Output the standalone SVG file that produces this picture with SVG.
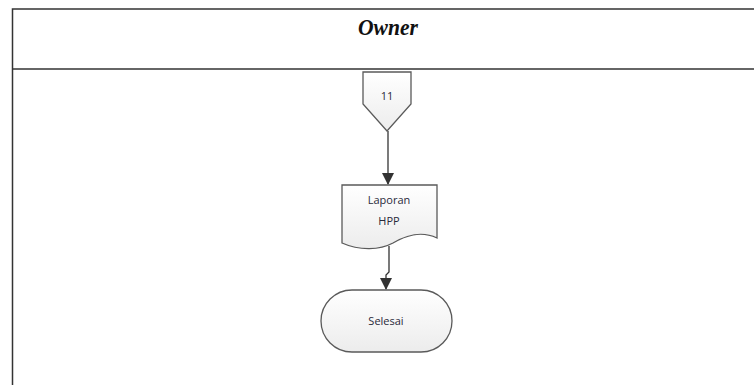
<svg xmlns="http://www.w3.org/2000/svg" width="754" height="387" viewBox="0 0 754 387">
<style>
.frame{fill:none;stroke:#333;stroke-width:1.5}
.shape{fill:url(#g);stroke:#5a5a5a;stroke-width:1.3}
.lbl{font-family:"Open Sans","Liberation Sans",sans-serif;font-size:11px;fill:#2a2a3a;text-anchor:middle}
.conn{fill:none;stroke:#333;stroke-width:1.3}
</style>
<defs>
<linearGradient id="g" x1="0" y1="0" x2="0" y2="1">
<stop offset="0" stop-color="#ffffff"/>
<stop offset="1" stop-color="#ececec"/>
</linearGradient>
<marker id="ah" markerWidth="12" markerHeight="12" refX="11" refY="6" orient="auto" markerUnits="userSpaceOnUse">
<path d="M0,0 L12,6 L0,12 Z" fill="#333"/>
</marker>
</defs>
<g id="frame">
<path class="frame" d="M754,9 H12.5 V385"/>
<line class="frame" x1="12.5" y1="69" x2="754" y2="69"/>
<text x="388" y="35" font-family="Liberation Serif,serif" font-style="italic" font-weight="bold" font-size="24" text-anchor="middle" textLength="60" lengthAdjust="spacingAndGlyphs" fill="#111">Owner</text>
</g>
<g id="connectors">
<line class="conn" x1="388" y1="131" x2="388" y2="184" marker-end="url(#ah)"/>
<path class="conn" d="M389,246 V272 L386,275 V289" marker-end="url(#ah)"/>
</g>
<g id="node-offpage">
<path class="shape" d="M363,72 H411 V104 L387,131 L363,104 Z"/>
<text class="lbl" x="387" y="100">11</text>
</g>
<g id="node-laporan">
<path class="shape" d="M342,185 H437 V238 C420,230 405,236 393,243 C380,250 360,251 342,243 Z"/>
<text class="lbl" x="389" y="204">Laporan</text>
<text class="lbl" x="389" y="225">HPP</text>
</g>
<g id="node-selesai">
<rect class="shape" x="321" y="290" width="131" height="62" rx="31" ry="31"/>
<text class="lbl" x="386" y="325">Selesai</text>
</g>
</svg>
